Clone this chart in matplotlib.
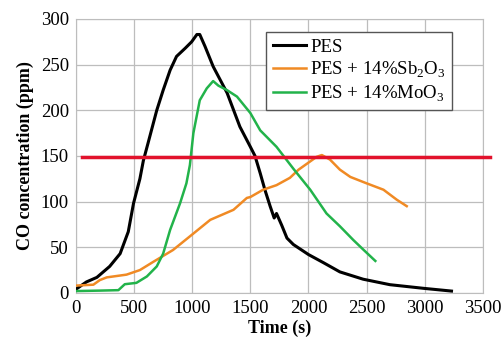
import matplotlib
matplotlib.use("Agg")
import matplotlib.pyplot as plt

plt.rcParams['font.family'] = ['Liberation Serif', 'DejaVu Serif']
plt.rcParams['mathtext.fontset'] = 'custom'
plt.rcParams['mathtext.rm'] = 'Liberation Serif'

# PES
t_pes = [0, 90, 180, 290, 380, 450, 495, 550, 580, 620, 695, 750, 810, 865, 940, 995,
         1040, 1065, 1110, 1180, 1300, 1410, 1500, 1540, 1585, 1625, 1670, 1705, 1725,
         1770, 1815, 1870, 2000, 2130, 2270, 2470, 2700, 2990, 3230]
v_pes = [4, 12, 17, 29, 43, 67, 98, 125, 145, 164, 200, 222, 244, 259, 268, 275,
         283, 283, 270, 248, 219, 182, 160, 150, 131, 113, 95, 82, 87,
         74, 60, 53, 42, 33, 23, 15, 9, 5, 2]

# PES + 14% Sb2O3
t_sb = [0, 150, 205, 265, 435, 550, 665, 835, 1010, 1155, 1355, 1470, 1500, 1610,
        1725, 1840, 1915, 2070, 2115, 2185, 2270, 2360, 2500, 2645, 2760, 2845]
v_sb = [8, 9, 14, 17, 20, 25, 34, 47, 65, 80, 91, 104, 105, 113,
        118, 126, 135, 149, 151, 146, 135, 127, 120, 113, 102, 95]

# PES + 14% MoO3
t_mo = [0, 205, 365, 420, 520, 610, 695, 750, 810, 895, 950, 980, 1010, 1065, 1125,
        1180, 1225, 1300, 1385, 1500, 1585, 1725, 1870, 2015, 2155, 2270, 2385, 2475, 2575]
v_mo = [2, 2.5, 3, 9.5, 11, 18, 29, 43, 69, 98, 120, 140, 175, 211, 224,
        232, 227, 222, 215, 197, 178, 160, 136, 113, 87, 73, 58, 47, 35]

limite = 149
x_ticks = [0, 500, 1000, 1500, 2000, 2500, 3000, 3500]
y_ticks = [0, 50, 100, 150, 200, 250, 300]

fig = plt.figure(figsize=(5.03, 3.39), dpi=100)
ax = fig.add_axes([0.151, 0.136, 0.809, 0.808])

ax.plot(t_pes, v_pes, color='black', lw=2.2, label='PES', zorder=3)
ax.plot(t_sb, v_sb, color='#f08a24', lw=1.8, label='PES + 14%Sb$_2$O$_3$', zorder=3)
ax.plot(t_mo, v_mo, color='#22b34a', lw=1.8, label='PES + 14%MoO$_3$', zorder=3)

# linea horizontal roja
ax.plot([50, 3560], [limite, limite], color='#e2122c', lw=2.5, clip_on=False, zorder=4)

ax.set_xlim(0, 3500)
ax.set_ylim(0, 300)
ax.set_xticks(x_ticks)
ax.set_yticks(y_ticks)
ax.tick_params(length=0, labelsize=13.5, pad=5)
ax.grid(True, color='#bdbdbd', lw=0.9)
ax.set_axisbelow(True)
for s in ax.spines.values():
    s.set_color('#bdbdbd')

ax.set_xlabel('Time (s)', fontsize=13, fontweight='bold', labelpad=2)
ax.set_ylabel('CO concentration (ppm)', fontsize=13, fontweight='bold', labelpad=5)

leg = ax.legend(loc='upper left', bbox_to_anchor=(0.467, 0.953), borderaxespad=0,
                fontsize=13.5, frameon=True, fancybox=False, edgecolor='#555555',
                framealpha=1, handlelength=1.8, handletextpad=0.2, borderpad=0.35,
                labelspacing=0.2)
leg.get_frame().set_linewidth(1.0)

fig.savefig('out.png', dpi=100)
